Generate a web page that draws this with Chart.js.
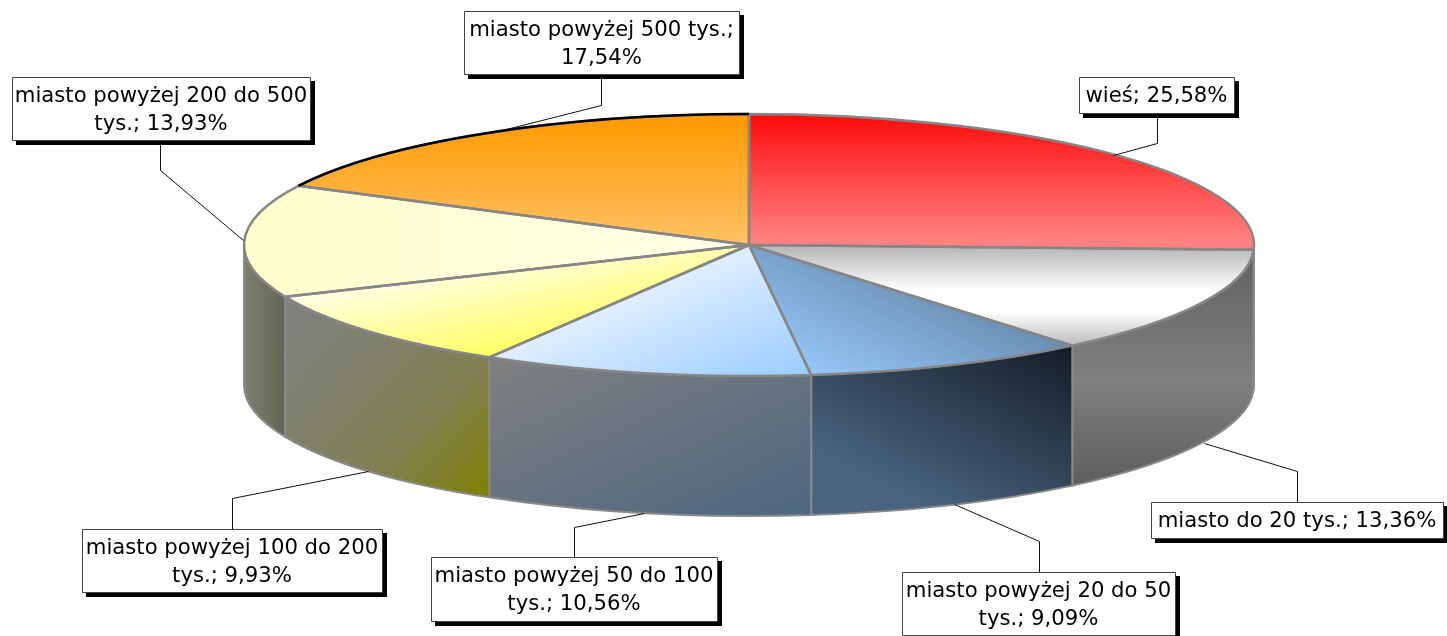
<!DOCTYPE html>
<html lang="pl"><head><meta charset="utf-8">
<style>html,body{margin:0;padding:0;background:#fff}canvas{display:block}</style>
<script src="https://cdn.jsdelivr.net/npm/chart.js@4"></script></head>
<body><canvas id="c" width="1447" height="636"></canvas>
<script>
const categories=["wieś","miasto do 20 tys.","miasto powyżej 20 do 50 tys.","miasto powyżej 50 do 100 tys.","miasto powyżej 100 do 200 tys.","miasto powyżej 200 do 500 tys.","miasto powyżej 500 tys."];
const values=[25.58,13.36,9.09,10.56,9.93,13.93,17.54];
const valueLabels=["25,58%","13,36%","9,09%","10,56%","9,93%","13,93%","17,54%"];
const labelLines=[["wieś; 25,58%"],["miasto do 20 tys.; 13,36%"],["miasto powyżej 20 do 50","tys.; 9,09%"],["miasto powyżej 50 do 100","tys.; 10,56%"],["miasto powyżej 100 do 200","tys.; 9,93%"],["miasto powyżej 200 do 500","tys.; 13,93%"],["miasto powyżej 500 tys.;","17,54%"]];

// layout (screen pixels)
const CX=749,CY=245,RX=505,RY=131,DEPTH=140,K=RY/RX;
const boxes=[[1079,77,1234,113],[1151,502,1443,538],[902,572,1175,635],[431,557,717,621],[82,529,382,592],[12,77,310,140],[464,11,739,74]];
const leaders=[[[1157,113],[1157,143],[1113,155]],[[1297,502],[1297,471],[1204,443]],[[1039,572],[1039,541],[954,504]],[[574,557],[574,527],[644,513]],[[232,529],[232,498],[368,471]],[[160,140],[160,170],[243,240]],[[601,74],[601,105],[494,132]]];

const canvas=document.getElementById('c'),g=canvas.getContext('2d');
function grad(x0,y0,x1,y1,stops){const o=g.createLinearGradient(x0,y0,x1,y1);stops.forEach(s=>o.addColorStop(s[0],s[1]));return o;}
// gradient given in screen space, converted to the squashed space of the top face
function topGrad(x0,y0,x1,y1,stops){
  const dx=x1-x0,dy=y1-y0,d=dx*dx+dy*dy,gx=dx/d,gy=K*dy/d,n=gx*gx+gy*gy;
  const uy0=CY+(y0-CY)/K;
  return grad(x0,uy0,x0+gx/n,uy0+gy/n,stops);
}
const topFills=[
 topGrad(0,115,0,240,[[0,'#ff0c0c'],[1,'#ff8080']]),
 topGrad(0,250,0,345,[[0,'#bcbcbc'],[.42,'#ffffff'],[.65,'#ffffff'],[1,'#bcbcbc']]),
 topGrad(777,187,704.5,336.4,[[0,'#6688aa'],[1,'#99ccff']]),
 topGrad(749,245,806,377,[[0,'#e0eeff'],[1,'#99ccff']]),
 topGrad(279.5,280,302.5,393,[[0,'#ffffff'],[1,'#ffff66']]),
 topGrad(244,0,749,0,[[0,'#ffffcc'],[1,'#ffffe8']]),
 topGrad(0,115,0,245,[[0,'#ff9900'],[1,'#ffc266']])
];
const wallFills=[
 '#666666',
 grad(0,250,0,485,[[0,'#606060'],[.55,'#808080'],[1,'#5e5e5e']]),
 grad(1073,345,972,535,[[0,'#141c26'],[1,'#4a6480']]),
 grad(488,358,605,613,[[0,'#808080'],[1,'#4d6680']]),
 grad(283,297,488,497,[[0,'#808080'],[.34,'#80806e'],[.67,'#808050'],[1,'#808000']]),
 grad(244,0,283,0,[[0,'#80806c'],[1,'#666658']]),
 '#808060'
];
const pie3d={id:'pie3d',
 beforeDatasetsDraw(chart){
  const arcs=chart.getDatasetMeta(0).data;
  arcs.forEach((arc,i)=>{
    let s=arc.startAngle,e=arc.endAngle;
    if(s<0&&e>0)s=0; else if(s<0) return;
    if(s>=Math.PI) return;
    e=Math.min(e,Math.PI);
    g.beginPath();
    g.ellipse(CX,CY,RX,RY,0,s,e);
    g.ellipse(CX,CY+DEPTH,RX,RY,0,e,s,true);
    g.closePath();
    g.fillStyle=wallFills[i];g.fill();
    g.strokeStyle='#8a8a8a';g.lineWidth=2;g.stroke();
  });
  g.save();
  g.translate(0,CY);g.scale(1,K);g.translate(0,-CY);
 },
 afterDatasetsDraw(chart){
  g.restore();
  const arcs=chart.getDatasetMeta(0).data;
  g.lineJoin='round';
  arcs.forEach((arc,i)=>{
    g.beginPath();g.moveTo(CX,CY);g.ellipse(CX,CY,RX,RY,0,arc.startAngle,arc.endAngle);g.closePath();
    g.strokeStyle='#868686';g.lineWidth=2.5;g.stroke();
  });
  const last=arcs[arcs.length-1];
  g.beginPath();g.ellipse(CX,CY,RX,RY,0,last.startAngle,last.endAngle);
  g.strokeStyle='#000';g.lineWidth=2.5;g.stroke();
  // leaders
  g.strokeStyle='#111';g.lineWidth=1;
  leaders.forEach(l=>{g.beginPath();l.forEach((p,j)=>{j?g.lineTo(p[0]+.5,p[1]+.5):g.moveTo(p[0]+.5,p[1]+.5);});g.stroke();});
  // labels
  g.font='21.2px "DejaVu Sans"';g.textAlign='center';g.textBaseline='middle';
  boxes.forEach((b,i)=>{
    const [x0,y0,x1,y1]=b;
    g.fillStyle='#000';g.fillRect(x0+4,y0+4,x1-x0+1,y1-y0+1);
    g.fillStyle='#fff';g.fillRect(x0,y0,x1-x0,y1-y0);
    g.strokeStyle='#444';g.lineWidth=1;g.strokeRect(x0+.5,y0+.5,x1-x0,y1-y0);
    g.fillStyle='#000';
    const ls=labelLines[i],mid=(y0+y1)/2+1.5;
    ls.forEach((t,j)=>g.fillText(t,(x0+x1)/2,mid+(j-(ls.length-1)/2)*28));
  });
 }
};
new Chart(canvas,{type:'pie',
 data:{labels:categories,datasets:[{data:values,backgroundColor:topFills,borderWidth:0,radius:RX,clip:false}]},
 options:{responsive:false,animation:false,layout:{padding:{left:51,right:0,top:0,bottom:146}},
  plugins:{legend:{display:false},tooltip:{enabled:false}},events:[]},
 plugins:[pie3d]});
</script></body></html>
